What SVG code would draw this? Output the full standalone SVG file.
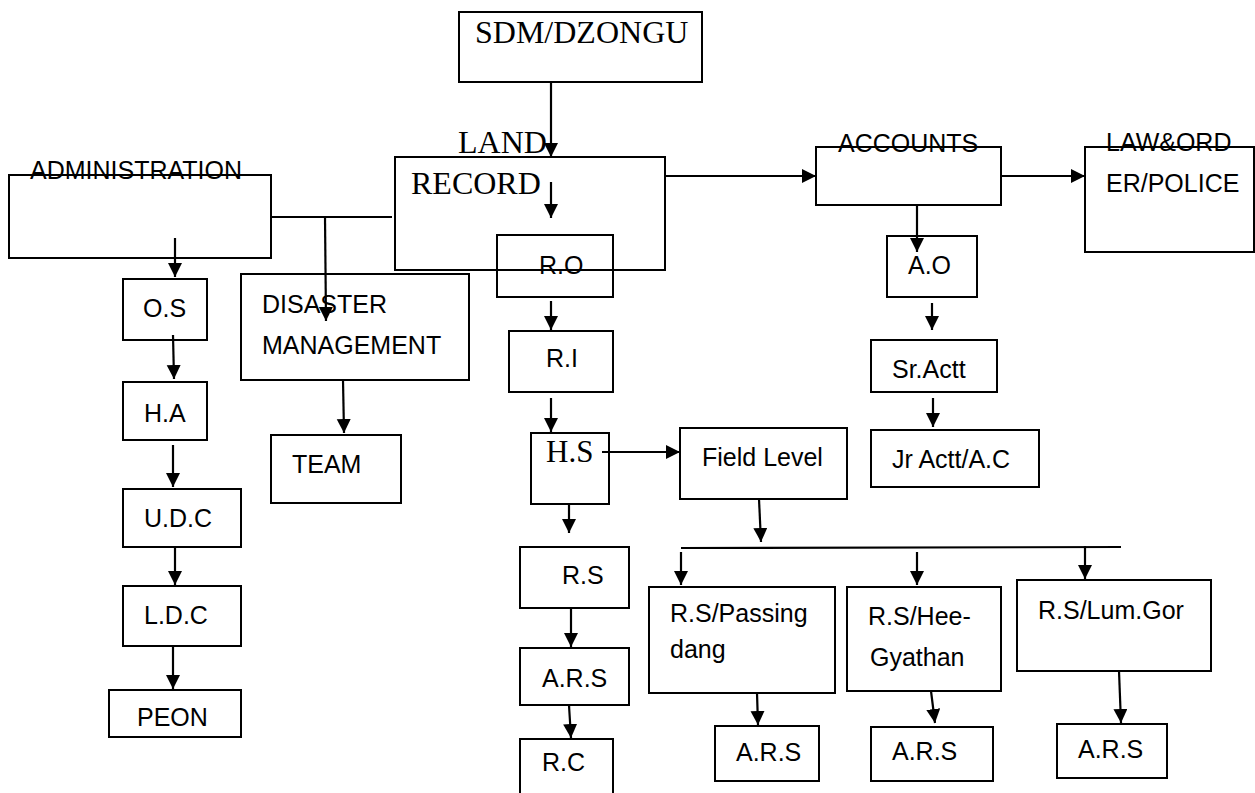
<svg xmlns="http://www.w3.org/2000/svg" width="1255" height="793" viewBox="0 0 1255 793">
<defs>
<style>
.b{fill:none;stroke:#000;stroke-width:2}
.t{font-family:"Liberation Sans",Arial,sans-serif;font-size:25px;fill:#000}
.s{font-family:"Liberation Serif","Times New Roman",serif;font-size:32px;fill:#000}
.c{fill:none;stroke:#000;stroke-width:2.2;marker-end:url(#ah)}
.l{fill:none;stroke:#000;stroke-width:2.2}
</style>
<marker id="ah" markerUnits="userSpaceOnUse" markerWidth="15" markerHeight="15" refX="14" refY="7" orient="auto">
<path d="M0,0 L14,7 L0,14 z" fill="#000"/>
</marker>
</defs>
<rect width="1255" height="793" fill="#fff"/>
<g id="sdm"><rect class="b" x="459" y="12" width="243" height="70"/><text class="s" x="475" y="43">SDM/DZONGU</text></g>
<g id="landrecord"><rect class="b" x="395" y="157" width="270" height="113" stroke-width="1.5"/><text class="s" x="458" y="153">LAND</text><text class="s" x="411" y="194">RECORD</text></g>
<g id="ro"><rect class="b" x="497" y="235" width="116" height="62"/><text class="t" x="539" y="274">R.O</text></g>
<g id="ri"><rect class="b" x="509" y="331" width="104" height="61"/><text class="t" x="546" y="367">R.I</text></g>
<g id="hs"><rect class="b" x="531" y="433" width="78" height="71"/><text class="s" x="546" y="462" style="font-size:31px">H.S</text></g>
<g id="rs"><rect class="b" x="520" y="547" width="109" height="61"/><text class="t" x="562" y="584">R.S</text></g>
<g id="ars1"><rect class="b" x="520" y="648" width="109" height="57"/><text class="t" x="542" y="687">A.R.S</text></g>
<g id="rc"><rect class="b" x="520" y="739" width="93" height="70"/><text class="t" x="542" y="771">R.C</text></g>
<g id="fieldlevel"><rect class="b" x="680" y="428" width="167" height="71"/><text class="t" x="702" y="466">Field Level</text></g>
<g id="rspassing"><rect class="b" x="649" y="587" width="186" height="106"/><text class="t" x="670" y="622">R.S/Passing</text><text class="t" x="670" y="658">dang</text></g>
<g id="rshee"><rect class="b" x="847" y="587" width="154" height="104"/><text class="t" x="868" y="625">R.S/Hee-</text><text class="t" x="870" y="666">Gyathan</text></g>
<g id="rslum"><rect class="b" x="1017" y="580" width="194" height="91"/><text class="t" x="1038" y="619">R.S/Lum.Gor</text></g>
<g id="ars2"><rect class="b" x="715" y="726" width="104" height="55"/><text class="t" x="736" y="761">A.R.S</text></g>
<g id="ars3"><rect class="b" x="871" y="727" width="122" height="54"/><text class="t" x="892" y="760">A.R.S</text></g>
<g id="ars4"><rect class="b" x="1057" y="724" width="110" height="54"/><text class="t" x="1078" y="758">A.R.S</text></g>
<g id="accounts"><rect class="b" x="816" y="147" width="185" height="58"/><text class="t" x="838" y="152">ACCOUNTS</text></g>
<g id="ao"><rect class="b" x="887" y="236" width="90" height="61"/><text class="t" x="908" y="274">A.O</text></g>
<g id="sractt"><rect class="b" x="871" y="340" width="126" height="52"/><text class="t" x="892" y="378">Sr.Actt</text></g>
<g id="jractt"><rect class="b" x="871" y="430" width="168" height="57"/><text class="t" x="892" y="468">Jr Actt/A.C</text></g>
<g id="laworder"><rect class="b" x="1085" y="147" width="169" height="105"/><text class="t" x="1106" y="151">LAW&amp;ORD</text><text class="t" x="1106" y="192">ER/POLICE</text></g>
<g id="administration"><rect class="b" x="9" y="175" width="262" height="83"/><text class="t" x="30" y="179">ADMINISTRATION</text></g>
<g id="os"><rect class="b" x="123" y="279" width="84" height="61"/><text class="t" x="143" y="317">O.S</text></g>
<g id="ha"><rect class="b" x="123" y="382" width="84" height="58"/><text class="t" x="144" y="422">H.A</text></g>
<g id="udc"><rect class="b" x="123" y="489" width="118" height="58"/><text class="t" x="144" y="527">U.D.C</text></g>
<g id="ldc"><rect class="b" x="123" y="586" width="118" height="60"/><text class="t" x="144" y="624">L.D.C</text></g>
<g id="peon"><rect class="b" x="109" y="690" width="132" height="47"/><text class="t" x="137" y="726">PEON</text></g>
<g id="disaster"><rect class="b" x="241" y="274" width="228" height="106"/><text class="t" x="262" y="313">DISASTER</text><text class="t" x="262" y="354">MANAGEMENT</text></g>
<g id="team"><rect class="b" x="271" y="435" width="130" height="68"/><text class="t" x="292" y="473">TEAM</text></g>
<g id="connectors">
<path class="c" d="M551,82 L551,157"/>
<path class="c" d="M551,182 L551,218"/>
<path class="c" d="M665,176 L816,176"/>
<path class="c" d="M1001,176 L1085,176"/>
<path class="c" d="M917,205 L917,252"/>
<path class="c" d="M932,303 L932,330"/>
<path class="c" d="M933,398 L933,427"/>
<path class="l" d="M271,217 L392,217"/>
<path class="c" d="M325,217 L326,321"/>
<path class="c" d="M175,238 L175,277"/>
<path class="c" d="M173,335 L174,379"/>
<path class="c" d="M173,445 L173,487"/>
<path class="c" d="M175,547 L175,585"/>
<path class="c" d="M173,646 L173,689"/>
<path class="c" d="M343,380 L344,433"/>
<path class="c" d="M551,301 L551,330"/>
<path class="c" d="M551,398 L551,432"/>
<path class="c" d="M602,452 L680,452"/>
<path class="c" d="M759,499 L761,542"/>
<path class="l" d="M681,548 L1121,547"/>
<path class="c" d="M681,552 L681,585"/>
<path class="c" d="M917,552 L917,585"/>
<path class="c" d="M1085,546 L1085,579"/>
<path class="c" d="M757,693 L758,725"/>
<path class="c" d="M931,691 L935,723"/>
<path class="c" d="M1119,671 L1121,723"/>
<path class="c" d="M569,504 L569,533"/>
<path class="c" d="M571,608 L571,647"/>
<path class="c" d="M569,705 L571,738"/>
</g>
</svg>
